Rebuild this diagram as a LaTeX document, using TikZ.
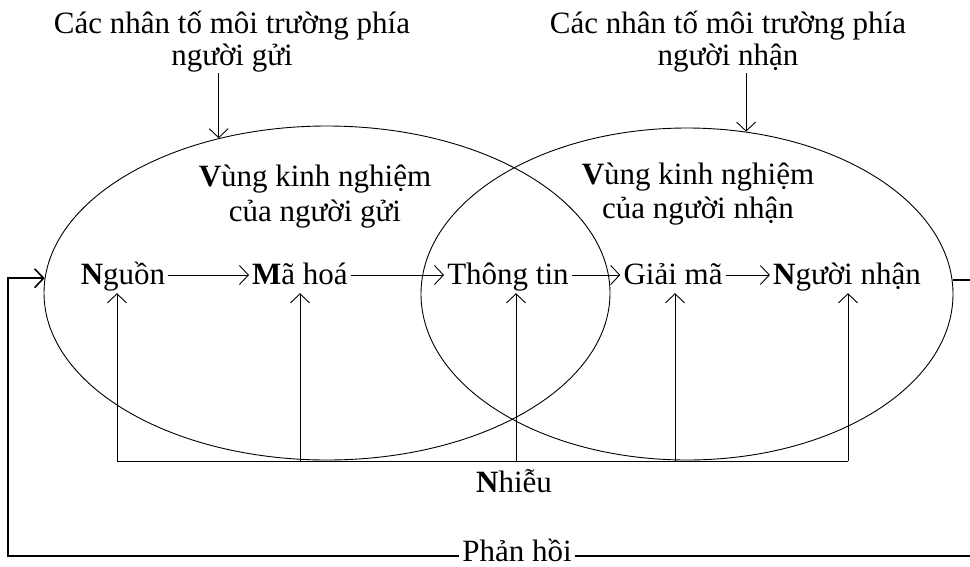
\documentclass[tikz,border=0pt]{standalone}
\usepackage{fontspec}
\setmainfont{Liberation Serif}
\usetikzlibrary{arrows.meta,shapes.geometric}
\tikzset{
  >={Straight Barb[length=9pt,width=19pt]},
  lbl/.style={font=\fontsize{31}{32}\selectfont, align=center, inner sep=0pt},
  item/.style={font=\fontsize{31}{32}\selectfont, inner sep=3pt, text height=24pt, text depth=6pt, anchor=base},
  zone/.style={ellipse, draw, line width=0.9pt, inner sep=0pt},
  tr/.style={->, line width=0.9pt},
  fb/.style={->, line width=1.6pt}
}

\begin{document}
\begin{tikzpicture}[x=1pt, y=-1pt]
    \useasboundingbox (0,0) rectangle (970,566);

    % === The two fields of experience ===
    \node[zone, minimum width=566pt, minimum height=334pt] (send) at (327,293) {};
    \node[zone, minimum width=532pt, minimum height=332pt] (recv) at (687,294) {};

    % Environment factors on each side
    \node[lbl] (envL) at (232,42) {Các nhân tố môi trường phía\\người gửi};
    \node[lbl] (envR) at (728,42) {Các nhân tố môi trường phía\\người nhận};
    \draw[tr] (envL.south -| send.125.5) -- (send.125.5);
    \draw[tr] (envR.south -| recv.70.6) -- (recv.70.6);

    \node[lbl, font=\fontsize{31}{35}\selectfont] (expL) at (315,197) {\textbf{V}ùng kinh nghiệm\\của người gửi};
    \node[lbl, font=\fontsize{31}{34}\selectfont] (expR) at (698,194) {\textbf{V}ùng kinh nghiệm\\của người nhận};

    % === Main row ===
    \node[item] (nguon) at (123,284) {\textbf{N}guồn};
    \node[item] (mahoa) at (300,284) {\textbf{M}ã hoá};
    \node[item] (thongtin) at (508,284) {Thông tin};
    \node[item] (giaima) at (673,284) {Giải mã};
    \node[item] (nguoinhan) at (847,284) {\textbf{N}gười nhận};

    \draw[tr] (nguon) -- (mahoa);
    \draw[tr] (mahoa) -- (thongtin);
    \draw[tr] (thongtin) -- (giaima);
    \draw[tr] (giaima) -- (nguoinhan);

    % === Noise ===
    \node[item] (nhieu) at (514,492) {\textbf{N}hiễu};
    \foreach \n/\x in {nguon/117, mahoa/300, thongtin/516, giaima/675, nguoinhan/848} {
        \coordinate (b-\n) at (\x,461);
        \draw[tr] (b-\n) -- (b-\n |- \n.south);
    }
    \draw[line width=0.9pt] (b-nguon) -- (b-nguoinhan);

    % === Feedback ===
    \coordinate (fbR) at (972,556);
    \coordinate (fbL) at (8,556);
    \draw[fb] (recv.3) -| (fbR) -- (fbL) |- (send.177);
    \node[item, fill=white, text height=22pt, text depth=0pt] (phanhoi) at (517,561) {Phản hồi};

\end{tikzpicture}
\end{document}
